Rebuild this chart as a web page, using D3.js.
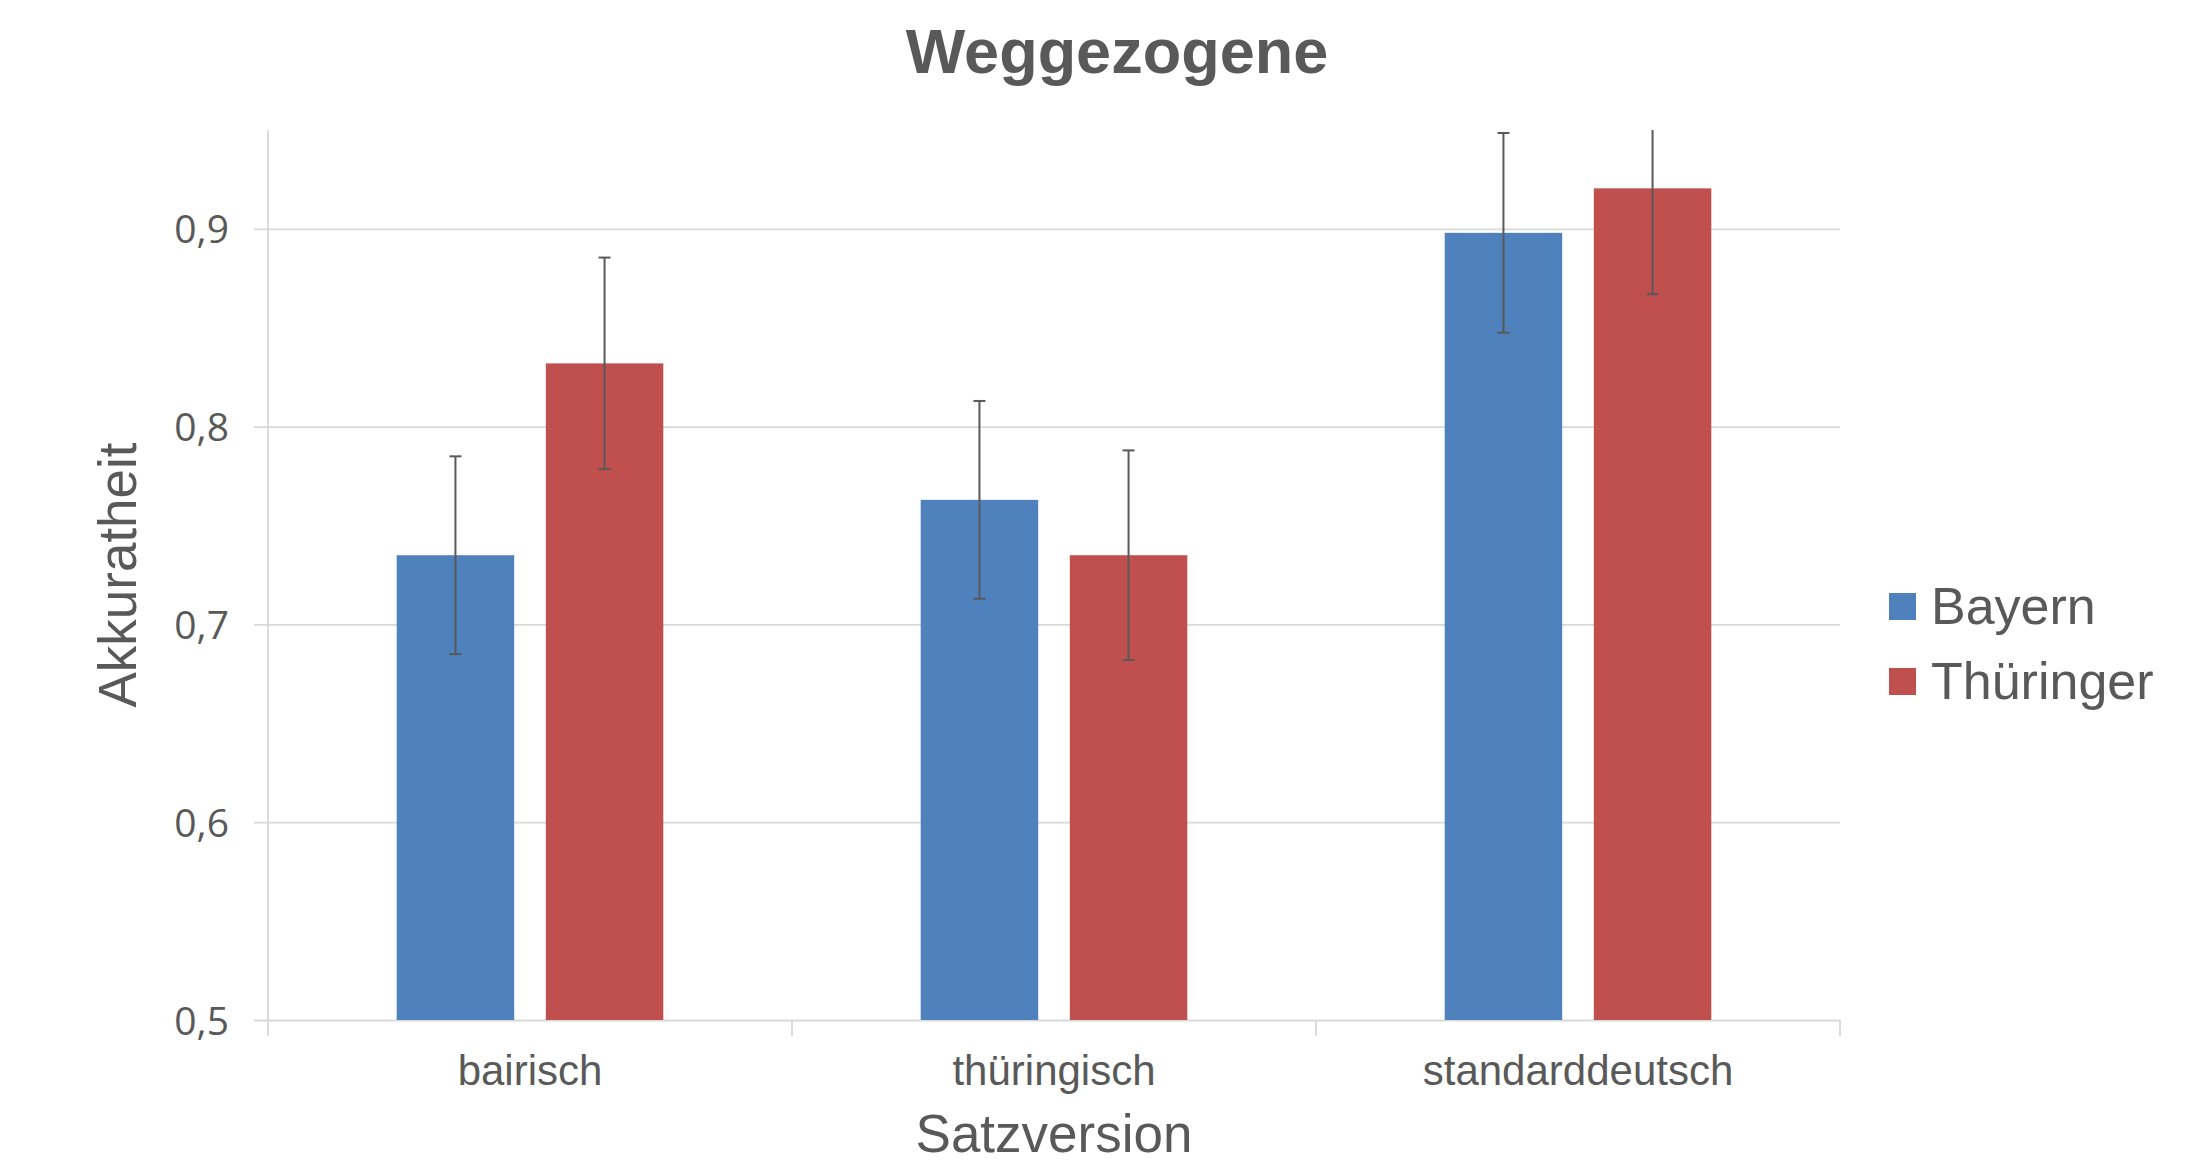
<!DOCTYPE html>
<html><head><meta charset="utf-8">
<script src="https://cdn.jsdelivr.net/npm/d3@7"></script>
<style>html,body{margin:0;padding:0;background:#fff}</style>
</head><body><svg id="chart" width="2185" height="1164"></svg>
<script>
const categories = ["bairisch", "thüringisch", "standarddeutsch"];
const seriesNames = ["Bayern", "Thüringer"];
const bayernValues = [0.735, 0.763, 0.898];
const thueringerValues = [0.832, 0.735, 0.9205];
const bayernErrors = [0.050, 0.050, 0.0505];
const thueringerErrors = [0.0535, 0.053, 0.0535];
const yTickValues = [0.5, 0.6, 0.7, 0.8, 0.9];
const yTickLabels = ["0,5", "0,6", "0,7", "0,8", "0,9"];
const seriesColors = ["#4F81BD", "#C0504D"];
const chartTitle = "Weggezogene";
const xTitle = "Satzversion";
const yTitle = "Akkuratheit";

const seriesValues = [bayernValues, thueringerValues];
const seriesErrors = [bayernErrors, thueringerErrors];

const svg = d3.select("#chart");
svg.append("rect").attr("width", 2185).attr("height", 1164).attr("fill", "#fff");

const plot = {left: 268, right: 1840, top: 130, bottom: 1020};
const yMax = 0.95;
const y = d3.scaleLinear().domain([0.5, yMax]).range([plot.bottom, plot.top]);
const x = d3.scaleBand().domain(categories).range([plot.left, plot.right]).padding(0);
const bw = x.bandwidth();
const xs = d3.scaleBand().domain(seriesNames).range([bw * 0.2456, bw * (1 - 0.2456)]).paddingInner(0.212).paddingOuter(0);

const gridColor = "#D9D9D9";
const textColor = "#595959";

// gridlines with outward ticks
const yAxis = d3.axisLeft(y).tickValues(yTickValues)
  .tickSize(-(plot.right - plot.left))
  .tickFormat((d, i) => yTickLabels[i]);
const gy = svg.append("g").attr("transform", `translate(${plot.left},0)`).call(yAxis);
gy.select(".domain").remove();
gy.selectAll(".tick line").attr("stroke", gridColor).attr("stroke-width", 1.8)
  .attr("x1", -14).attr("x2", plot.right - plot.left);
gy.selectAll(".tick text").attr("x", -39).attr("fill", textColor)
  .attr("font-family", "'Open Sans', sans-serif").attr("font-size", 39).attr("dy", "0.36em");

// y axis line
svg.append("line").attr("x1", plot.left).attr("x2", plot.left)
  .attr("y1", plot.top).attr("y2", plot.bottom)
  .attr("stroke", gridColor).attr("stroke-width", 1.8);

// x axis ticks at band boundaries
const boundaries = categories.map(c => x(c)).concat([plot.right]);
svg.append("g").selectAll("line").data(boundaries).join("line")
  .attr("x1", d => d).attr("x2", d => d)
  .attr("y1", plot.bottom).attr("y2", plot.bottom + 16)
  .attr("stroke", gridColor).attr("stroke-width", 1.8);

// category labels
svg.append("g").selectAll("text").data(categories).join("text")
  .attr("x", d => x(d) + bw / 2).attr("y", plot.bottom + 65)
  .attr("text-anchor", "middle").attr("fill", textColor)
  .attr("font-family", "'Liberation Sans', Arial, sans-serif").attr("font-size", 42)
  .text(d => d);

// bars
const groups = svg.append("g").selectAll("g").data(categories).join("g")
  .attr("transform", d => `translate(${x(d)},0)`);
seriesNames.forEach((s, si) => {
  groups.append("rect")
    .attr("x", xs(s)).attr("width", xs.bandwidth())
    .attr("y", (d, i) => y(seriesValues[si][i]))
    .attr("height", (d, i) => plot.bottom - y(seriesValues[si][i]))
    .attr("fill", seriesColors[si]);
});

// error bars
const errColor = "#595959";
seriesNames.forEach((s, si) => {
  groups.each(function(d, i) {
    const g = d3.select(this);
    const cx = xs(s) + xs.bandwidth() / 2;
    const v = seriesValues[si][i], e = seriesErrors[si][i];
    const hi = v + e, lo = v - e;
    const hiC = Math.min(hi, yMax);
    g.append("line").attr("x1", cx).attr("x2", cx)
      .attr("y1", y(hiC)).attr("y2", y(lo))
      .attr("stroke", errColor).attr("stroke-width", 2);
    g.append("line").attr("x1", cx - 6).attr("x2", cx + 6)
      .attr("y1", y(lo)).attr("y2", y(lo))
      .attr("stroke", errColor).attr("stroke-width", 2);
    if (hi <= yMax) {
      g.append("line").attr("x1", cx - 6).attr("x2", cx + 6)
        .attr("y1", y(hi)).attr("y2", y(hi))
        .attr("stroke", errColor).attr("stroke-width", 2);
    }
  });
});

// title
svg.append("text").attr("x", 1117).attr("y", 73).attr("text-anchor", "middle")
  .attr("fill", textColor).attr("font-family", "'Liberation Sans', Arial, sans-serif")
  .attr("font-weight", "bold").attr("font-size", 63).text(chartTitle);

// axis titles
svg.append("text").attr("x", (plot.left + plot.right) / 2).attr("y", 1152)
  .attr("text-anchor", "middle").attr("fill", textColor)
  .attr("font-family", "'Liberation Sans', Arial, sans-serif").attr("font-size", 53)
  .text(xTitle);
svg.append("text").attr("transform", `translate(136,${(plot.top + plot.bottom) / 2}) rotate(-90)`)
  .attr("text-anchor", "middle").attr("fill", textColor)
  .attr("font-family", "'Liberation Sans', Arial, sans-serif").attr("font-size", 53)
  .text(yTitle);

// legend
const legend = svg.append("g").selectAll("g").data(seriesNames).join("g")
  .attr("transform", (d, i) => `translate(1889,${593 + i * 75})`);
legend.append("rect").attr("width", 27).attr("height", 27).attr("fill", (d, i) => seriesColors[i]);
legend.append("text").attr("x", 42).attr("y", 31).attr("fill", textColor)
  .attr("font-family", "'Liberation Sans', Arial, sans-serif").attr("font-size", 52)
  .text(d => d);
</script>
</body></html>
